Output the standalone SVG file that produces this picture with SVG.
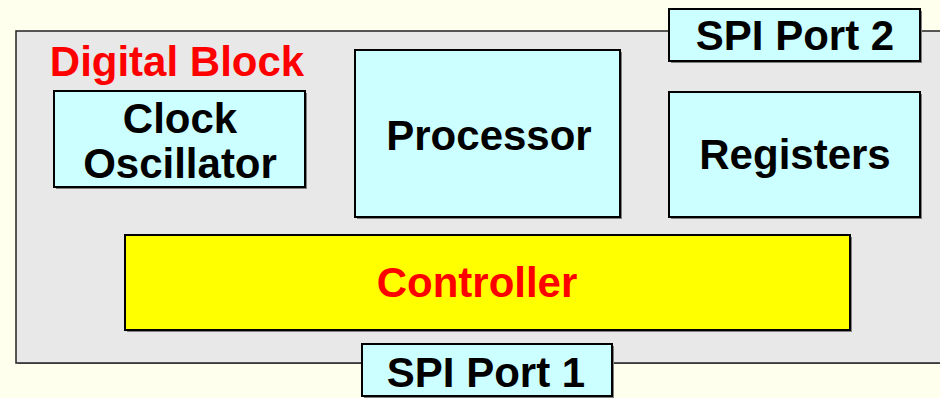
<svg xmlns="http://www.w3.org/2000/svg" width="940" height="398" viewBox="0 0 940 398">
  <style>
    .box { stroke: #000; stroke-width: 2; }
    .shadow { fill: #808080; }
    .cyan { fill: #CCFFFF; }
    .yellow { fill: #FFFF00; }
    .outer { fill: #E8E8E8; stroke: #222; stroke-width: 1.5; }
    .lbl { font-family: "Liberation Sans", Arial, sans-serif; font-weight: bold; font-size: 42px; text-anchor: middle; fill: #000; }
    .red { fill: #FF0000; }
  </style>
  <rect width="940" height="398" fill="#FFFFEE"/>

  <!-- enclosing digital block -->
  <g id="digital-block">
    <rect x="18" y="33" width="940" height="331" class="shadow"/>
    <rect x="16" y="31" width="940" height="332" class="outer"/>
    <text x="177" y="76" class="lbl red">Digital Block</text>
  </g>

  <g id="clock-oscillator">
    <rect x="56" y="93" width="251" height="96" class="shadow"/>
    <rect x="54" y="91" width="251" height="96" class="box cyan"/>
    <text x="180" y="133" class="lbl">Clock</text>
    <text x="180" y="178" class="lbl">Oscillator</text>
  </g>

  <g id="processor">
    <rect x="357" y="52" width="265" height="167" class="shadow"/>
    <rect x="355" y="50" width="265" height="167" class="box cyan"/>
    <text x="489" y="150" class="lbl">Processor</text>
  </g>

  <g id="registers">
    <rect x="671" y="94" width="251" height="125" class="shadow"/>
    <rect x="669" y="92" width="251" height="125" class="box cyan"/>
    <text x="795" y="169" class="lbl">Registers</text>
  </g>

  <g id="spi-port-2">
    <rect x="671" y="11" width="251" height="52" class="shadow"/>
    <rect x="669" y="9" width="251" height="52" class="box cyan"/>
    <text x="795" y="50" class="lbl">SPI Port 2</text>
  </g>

  <g id="controller">
    <rect x="127" y="237" width="725" height="95" class="shadow"/>
    <rect x="125" y="235" width="725" height="95" class="box yellow"/>
    <text x="477" y="297" class="lbl red">Controller</text>
  </g>

  <g id="spi-port-1">
    <rect x="364" y="346" width="250" height="52" class="shadow"/>
    <rect x="362" y="344" width="250" height="52" class="box cyan"/>
    <text x="486" y="387" class="lbl">SPI Port 1</text>
  </g>

  <g id="connectors"></g>
</svg>
